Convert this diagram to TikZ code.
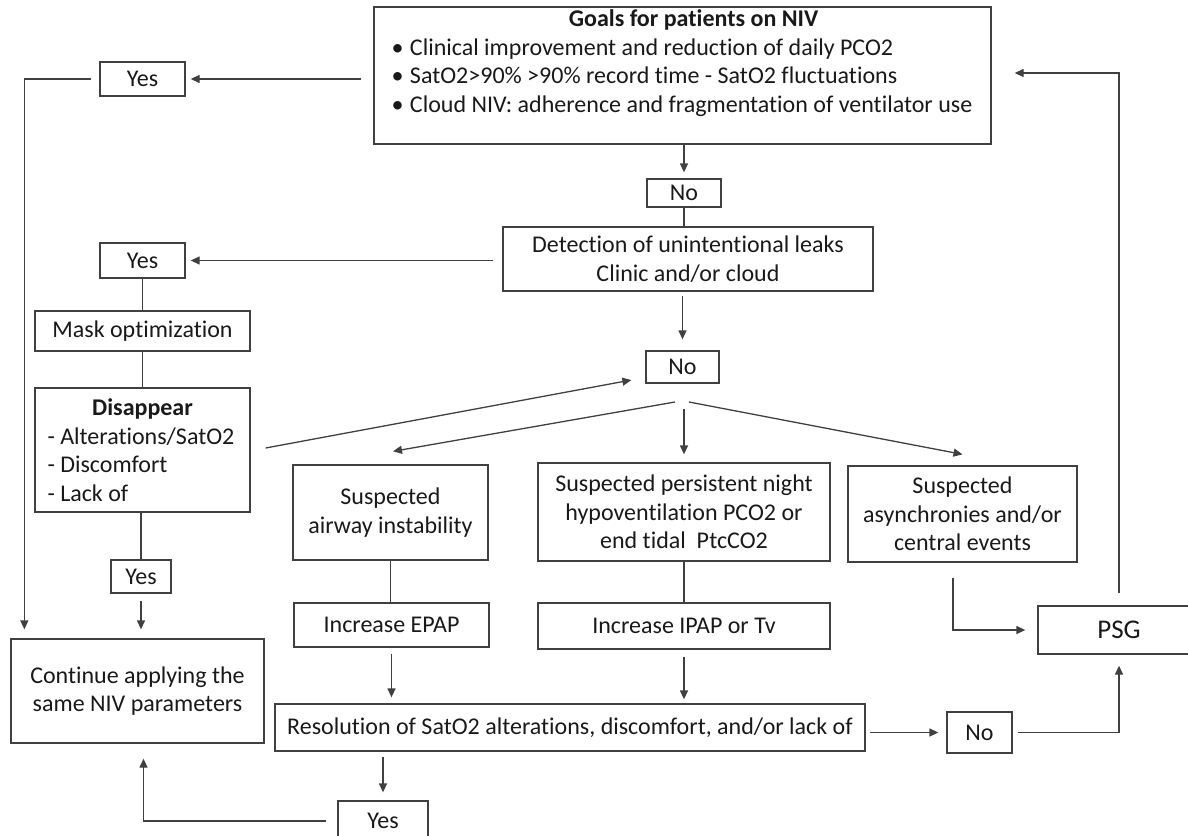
\documentclass[tikz,border=0pt]{standalone}
\usepackage{fontspec}
\setmainfont{Carlito}[Ligatures=NoCommon]
\usetikzlibrary{arrows.meta}
\newcommand{\goalitem}[1]{\makebox[600pt][l]{\hspace*{9pt}\makebox[18.5pt][l]{\textbullet}#1}}
\begin{document}
\begin{tikzpicture}[x=1pt, y=-1pt,
  box/.style={draw=black!75, line width=1.3pt, inner sep=0pt, align=center,
    text=black!90, font=\fontsize{24}{28.5}\selectfont},
  line/.style={draw=black!75, line width=1.3pt},
  arr/.style={line, -{Triangle[length=9pt,width=8pt]}}]
  \useasboundingbox (0,0) rectangle (1188,835);

  \node[box, minimum width=617pt, minimum height=137pt] (goals) at (682.5,75.5)
    {\makebox[600pt][c]{\hspace*{22pt}\textbf{Goals for patients on NIV}}\\
     \goalitem{Clinical improvement and reduction of daily PCO2}\\
     \goalitem{SatO2>90\% >90\% record time - SatO2 fluctuations}\\
     \goalitem{Cloud NIV: adherence and fragmentation of ventilator use}\\
     \mbox{}};
  \node[box, minimum width=85pt, minimum height=34pt] (yesA) at (142.5,79) {Yes};
  \node[box, minimum width=74pt, minimum height=28pt] (noA) at (684,193) {No};
  \node[box, minimum width=370pt, minimum height=64pt] (detect) at (688,259)
    {Detection of unintentional leaks\\Clinic and/or cloud};
  \node[box, minimum width=85pt, minimum height=35pt] (yesB) at (142.5,260.5) {Yes};
  \node[box, minimum width=215pt, minimum height=40pt] (mask) at (142.5,331) {Mask optimization};
  \node[box, minimum width=215pt, minimum height=124pt] (disappear) at (142.5,450)
    {\makebox[190pt][c]{\textbf{Disappear}}\\
     \makebox[190pt][l]{- Alterations/SatO2}\\
     \makebox[190pt][l]{- Discomfort}\\
     \makebox[190pt][l]{- Lack of}};
  \node[box, minimum width=73pt, minimum height=32pt] (noB) at (682.5,367) {No};
  \node[box, minimum width=195pt, minimum height=95pt] (airway) at (390.5,512.5)
    {Suspected\\airway instability};
  \node[box, minimum width=292pt, minimum height=98pt] (persist) at (684,512)
    {Suspected persistent night\\hypoventilation PCO2 or\\end tidal~ PtcCO2};
  \node[box, minimum width=229pt, minimum height=96pt] (asynch) at (962.5,514)
    {Suspected\\asynchronies and/or\\central events};
  \node[box, minimum width=60pt, minimum height=33pt] (yesC) at (141,576.5) {Yes};
  \node[box, minimum width=195pt, minimum height=44pt] (epap) at (391.5,625) {Increase EPAP};
  \node[box, minimum width=292pt, minimum height=46pt] (ipap) at (684,626) {Increase IPAP or Tv};
  \node[box, minimum width=162pt, minimum height=48pt, font=\fontsize{27}{32}\selectfont] (psg) at (1119,630) {PSG};
  \node[box, minimum width=253pt, minimum height=104pt] (cont) at (137.5,691)
    {Continue applying the\\same NIV parameters};
  \node[box, minimum width=590pt, minimum height=47pt] (resol) at (570,727.5)
    {Resolution of SatO2 alterations, discomfort, and/or lack of};
  \node[box, minimum width=65pt, minimum height=41pt] (noC) at (979.5,732.5) {No};
  \node[box, minimum width=90pt, minimum height=40pt] (yesD) at (383,821) {Yes};

  \coordinate (splitL) at (675,402);
  \coordinate (splitM) at (684,409);
  \coordinate (splitR) at (689,402);

  \draw[arr, shorten <=12pt, shorten >=5pt] (goals.west |- yesA.east) -- (yesA.east);
  \draw[arr, shorten <=8pt, shorten >=9pt] (yesA.west) -| ([xshift=14pt]cont.north west);
  \draw[arr, shorten >=6pt] (noA.north |- goals.south) -- (noA.north);
  \draw[line] (noA.south) -- (noA.south |- detect.north);
  \draw[arr, shorten <=9pt, shorten >=5pt] (detect.west |- yesB.east) -- (yesB.east);
  \draw[line] (yesB.south) -- (yesB.south |- mask.north);
  \draw[line] (mask.south) -- (disappear.north);
  \draw[arr, shorten <=4pt, shorten >=11pt] (noB.north |- detect.south) -- (noB.north);
  \draw[arr] ([xshift=15pt,yshift=2pt]disappear.east) -- ([xshift=-14pt,yshift=-13pt]noB.west);
  \draw[arr] (splitL) -- ([xshift=2.5pt,yshift=13pt]airway.north);
  \draw[arr] (splitM) -- ([yshift=8pt]persist.north);
  \draw[arr] (splitR) -- ([yshift=11pt]asynch.north);
  \draw[line] (airway.south) -- (airway.south |- epap.north);
  \draw[arr, shorten <=6pt, shorten >=6pt] (epap.south) -- (epap.south |- resol.north);
  \draw[line] (persist.south) -- (ipap.north);
  \draw[arr, shorten <=7pt, shorten >=4pt] (ipap.south) -- (ipap.south |- resol.north);
  \draw[arr, shorten >=12pt] ([xshift=-9.5pt,yshift=-15pt]asynch.south) |- (psg.west);
  \draw[arr, shorten <=12pt, shorten >=23pt] (psg.north) |- ([yshift=2.5pt]goals.east);
  \draw[arr, shorten <=4pt, shorten >=8pt] (resol.east |- noC.west) -- (noC.west);
  \draw[arr, shorten <=5pt, shorten >=11pt] (noC.east) -| (psg.south);
  \draw[arr, shorten <=5pt, shorten >=8pt] (yesD.north |- resol.south) -- (yesD.north);
  \draw[arr, shorten <=11pt, shorten >=15pt] (yesD.west) -| ([xshift=6pt]cont.south);
  \draw[line] (disappear.south -| yesC.north) -- (yesC.north);
  \draw[arr, shorten <=7pt, shorten >=9pt] (yesC.south) -- (yesC.south |- cont.north);
\end{tikzpicture}
\end{document}
